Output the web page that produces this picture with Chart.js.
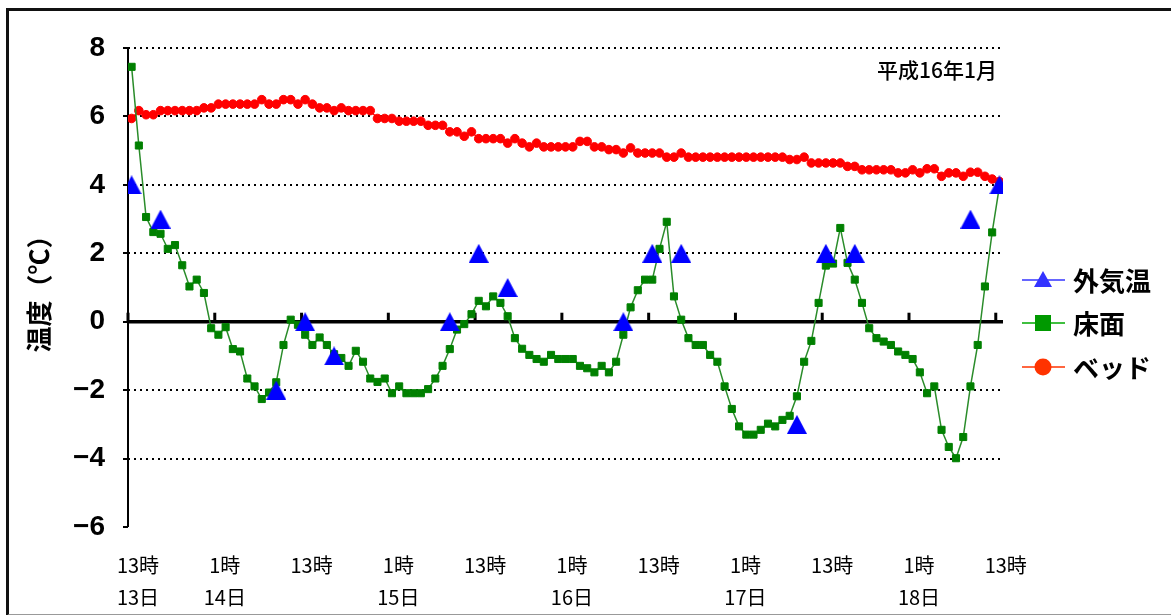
<!DOCTYPE html>
<html>
<head>
<meta charset="utf-8">
<script src="https://cdn.jsdelivr.net/npm/chart.js@4.4.0/dist/chart.umd.min.js"></script>
<style>
  body { margin: 0; background: #fff; }
  #wrap { position: relative; width: 1171px; height: 615px; }
  #frame { position: absolute; left: 6px; top: 8px; width: 1162px; height: 603px;
           border-left: 3px solid #111; border-top: 3px solid #111; border-right: 3px solid #111;
           border-bottom: 2px solid #999; pointer-events: none; }
</style>
</head>
<body>
<div id="wrap">
  <canvas id="chart" width="1171" height="615"></canvas>
  <div id="frame"></div>
</div>
<script>
// hourly readings, 13日13時 (hour 0) to 18日13時 (hour 120)
const floorTemps = [
  7.45, 5.15, 3.06, 2.62, 2.57, 2.13, 2.24, 1.65, 1.03, 1.23, 0.84, -0.19,
  -0.38, -0.16, -0.80, -0.87, -1.66, -1.89, -2.26, -2.07, -1.77, -0.68, 0.06, -0.09,
  -0.38, -0.68, -0.46, -0.68, -0.95, -1.06, -1.29, -0.85, -1.17, -1.66, -1.76, -1.66,
  -2.09, -1.89, -2.09, -2.09, -2.09, -1.97, -1.66, -1.29, -0.80, -0.23, -0.07, 0.22,
  0.61, 0.45, 0.74, 0.55, 0.16, -0.48, -0.79, -0.97, -1.09, -1.17, -0.97, -1.09,
  -1.09, -1.09, -1.29, -1.36, -1.48, -1.29, -1.48, -1.17, -0.38, 0.42, 0.92, 1.23,
  1.23, 2.13, 2.92, 0.74, 0.06, -0.48, -0.68, -0.68, -0.97, -1.17, -1.89, -2.55,
  -3.06, -3.30, -3.30, -3.16, -2.98, -3.06, -2.87, -2.75, -2.18, -1.17, -0.56, 0.55,
  1.64, 1.70, 2.74, 1.72, 1.23, 0.55, -0.19, -0.48, -0.58, -0.68, -0.87, -0.97,
  -1.09, -1.48, -2.09, -1.89, -3.16, -3.66, -3.99, -3.37, -1.89, -0.68, 1.03, 2.61,
  3.95
];
const bedTemps = [
  5.94, 6.17, 6.05, 6.05, 6.17, 6.17, 6.17, 6.17, 6.17, 6.17, 6.25, 6.25,
  6.36, 6.36, 6.36, 6.36, 6.36, 6.36, 6.49, 6.36, 6.36, 6.49, 6.49, 6.36,
  6.49, 6.36, 6.25, 6.25, 6.17, 6.25, 6.17, 6.17, 6.17, 6.17, 5.94, 5.94,
  5.94, 5.86, 5.86, 5.86, 5.86, 5.74, 5.74, 5.74, 5.55, 5.55, 5.42, 5.55,
  5.35, 5.35, 5.35, 5.35, 5.22, 5.35, 5.22, 5.11, 5.22, 5.11, 5.11, 5.11,
  5.11, 5.11, 5.27, 5.27, 5.11, 5.11, 5.03, 5.03, 4.93, 5.08, 4.93, 4.93,
  4.93, 4.93, 4.81, 4.81, 4.93, 4.81, 4.81, 4.81, 4.81, 4.81, 4.81, 4.81,
  4.81, 4.81, 4.81, 4.81, 4.81, 4.81, 4.81, 4.74, 4.74, 4.81, 4.64, 4.64,
  4.64, 4.64, 4.64, 4.54, 4.54, 4.44, 4.44, 4.44, 4.44, 4.44, 4.35, 4.35,
  4.44, 4.35, 4.47, 4.47, 4.25, 4.35, 4.35, 4.25, 4.37, 4.37, 4.25, 4.17,
  4.10
];
// outside temperature, read at 9時 / 13時 / 17時
const outsideHours = [0, 4, 20, 24, 28, 44, 48, 52, 68, 72, 76, 92, 96, 100, 116, 120];
const outsideTemps = [4, 3, -2, 0, -1, 0, 2, 1, 0, 2, 2, -3, 2, 2, 3, 4];

const tickHours = [-0.5, 11.5, 23.5, 35.5, 47.5, 59.5, 71.5, 83.5, 95.5, 107.5, 119.5];
const timeLabels = ['13時', '1時', '13時', '1時', '13時', '1時', '13時', '1時', '13時', '1時', '13時'];
const dayLabels = ['13日', '14日', '', '15日', '', '16日', '', '17日', '', '18日', ''];
const yTicks = [8, 6, 4, 2, 0, -2, -4, -6];

const CJK = '"Noto Sans CJK JP", sans-serif';

function triangleImg(w, h, color) {
  const c = document.createElement('canvas');
  c.width = w; c.height = h;
  const g = c.getContext('2d');
  g.fillStyle = color;
  g.beginPath();
  g.moveTo(w / 2, 0); g.lineTo(w, h); g.lineTo(0, h); g.closePath();
  g.fill();
  return c;
}

const gridPlugin = {
  id: 'excelGrid',
  beforeDatasetsDraw(chart) {
    const { ctx, chartArea: a, scales: { x, y } } = chart;
    ctx.save();
    ctx.strokeStyle = '#000';
    // dotted gridlines
    ctx.lineWidth = 2;
    ctx.setLineDash([2, 4]);
    yTicks.forEach(v => {
      if (v === 0 || v === -6) return;
      const py = Math.round(y.getPixelForValue(v));
      ctx.beginPath(); ctx.moveTo(a.left, py); ctx.lineTo(a.right, py); ctx.stroke();
    });
    ctx.setLineDash([]);
    // y axis line + ticks
    ctx.beginPath(); ctx.moveTo(a.left, a.top); ctx.lineTo(a.left, a.bottom); ctx.stroke();
    yTicks.forEach(v => {
      const py = Math.round(y.getPixelForValue(v));
      ctx.beginPath(); ctx.moveTo(a.left - 5, py); ctx.lineTo(a.left, py); ctx.stroke();
    });
    // zero line with category ticks
    const y0 = y.getPixelForValue(0);
    ctx.lineWidth = 3.5;
    ctx.beginPath(); ctx.moveTo(a.left, y0); ctx.lineTo(a.right, y0); ctx.stroke();
    ctx.lineWidth = 3;
    tickHours.forEach(h => {
      const px = x.getPixelForValue(h);
      ctx.beginPath(); ctx.moveTo(px, y0); ctx.lineTo(px, y0 - 9); ctx.stroke();
    });
    ctx.restore();
  },
  afterDraw(chart) {
    const { ctx } = chart;
    ctx.save();
    // note
    ctx.fillStyle = '#000';
    ctx.font = '500 21px ' + CJK;
    ctx.textAlign = 'right';
    ctx.textBaseline = 'middle';
    ctx.fillText('平成16年1月', 997, 70);
    // legend
    const rows = [
      { y: 280, line: '#3333ff', fill: '#3333ff', shape: 'tri' },
      { y: 323, line: '#00aa00', fill: '#009900', shape: 'sq' },
      { y: 367, line: '#ff3300', fill: '#ff3300', shape: 'dot' }
    ];
    chart.data.datasets.forEach((ds, i) => {
      const r = rows[i];
      ctx.strokeStyle = r.line;
      ctx.lineWidth = 1.5;
      ctx.beginPath(); ctx.moveTo(1022, r.y); ctx.lineTo(1065, r.y); ctx.stroke();
      ctx.fillStyle = r.fill;
      ctx.beginPath();
      if (r.shape === 'tri') {
        ctx.moveTo(1043, r.y - 9); ctx.lineTo(1052, r.y + 7); ctx.lineTo(1034, r.y + 7); ctx.closePath();
      } else if (r.shape === 'sq') {
        ctx.rect(1035, r.y - 8, 16, 16);
      } else {
        ctx.arc(1043, r.y, 8.5, 0, Math.PI * 2);
      }
      ctx.fill();
      ctx.fillStyle = '#000';
      ctx.textAlign = 'left';
      ctx.font = 'bold 26px ' + CJK;
      ctx.fillText(ds.label, 1073, r.y + 1);
    });
    ctx.restore();
  }
};

new Chart(document.getElementById('chart'), {
  type: 'line',
  data: {
    datasets: [
      {
        label: '外気温',
        data: outsideHours.map((h, i) => ({ x: h, y: outsideTemps[i] })),
        showLine: false,
        borderColor: '#3333ff',
        pointStyle: triangleImg(20, 19, '#0000ff'),
        order: 0
      },
      {
        label: '床面',
        data: floorTemps.map((v, h) => ({ x: h, y: v })),
        borderColor: '#2a8c2a',
        borderWidth: 1.5,
        pointStyle: 'rect',
        pointRadius: 5,
        pointBackgroundColor: '#008000',
        pointBorderColor: '#008000',
        pointBorderWidth: 1,
        tension: 0,
        order: 1
      },
      {
        label: 'ベッド',
        data: bedTemps.map((v, h) => ({ x: h, y: v })),
        borderColor: '#ff0000',
        borderWidth: 1.5,
        pointStyle: 'circle',
        pointRadius: 4.3,
        pointBackgroundColor: '#ff0000',
        pointBorderColor: '#ff0000',
        pointBorderWidth: 1,
        tension: 0,
        order: 2
      }
    ]
  },
  options: {
    responsive: false,
    animation: false,
    events: [],
    layout: { padding: { left: 0, right: 168, top: 48, bottom: 0 } },
    plugins: { legend: { display: false }, tooltip: { enabled: false } },
    scales: {
      x: {
        type: 'linear',
        min: -0.5,
        max: 120.5,
        afterBuildTicks: s => { s.ticks = tickHours.map(v => ({ value: v })); },
        afterFit: s => { s.height = 88; },
        grid: { display: false, drawTicks: false },
        border: { display: false },
        ticks: {
          autoSkip: false,
          maxRotation: 0,
          labelOffset: 10,
          padding: 22,
          color: '#000',
          font: { family: CJK, size: 20, lineHeight: 1.6 },
          callback: (v, i) => [timeLabels[i], dayLabels[i]]
        }
      },
      y: {
        min: -6,
        max: 8,
        afterBuildTicks: s => { s.ticks = yTicks.map(v => ({ value: v })); },
        afterFit: s => { s.width = 128; },
        grid: { display: false, drawTicks: false },
        border: { display: false },
        ticks: {
          padding: 23,
          color: '#000',
          font: { family: '"Liberation Sans", Arial, sans-serif', size: 28, weight: 'bold' },
          callback: v => (v < 0 ? '\u2212' + Math.abs(v) : String(v))
        },
        title: {
          display: true,
          text: '温度（℃）',
          color: '#000',
          font: { family: CJK, size: 26, weight: 'bold' },
          padding: { top: 24, bottom: 0 }
        }
      }
    }
  },
  plugins: [gridPlugin]
});
</script>
</body>
</html>
